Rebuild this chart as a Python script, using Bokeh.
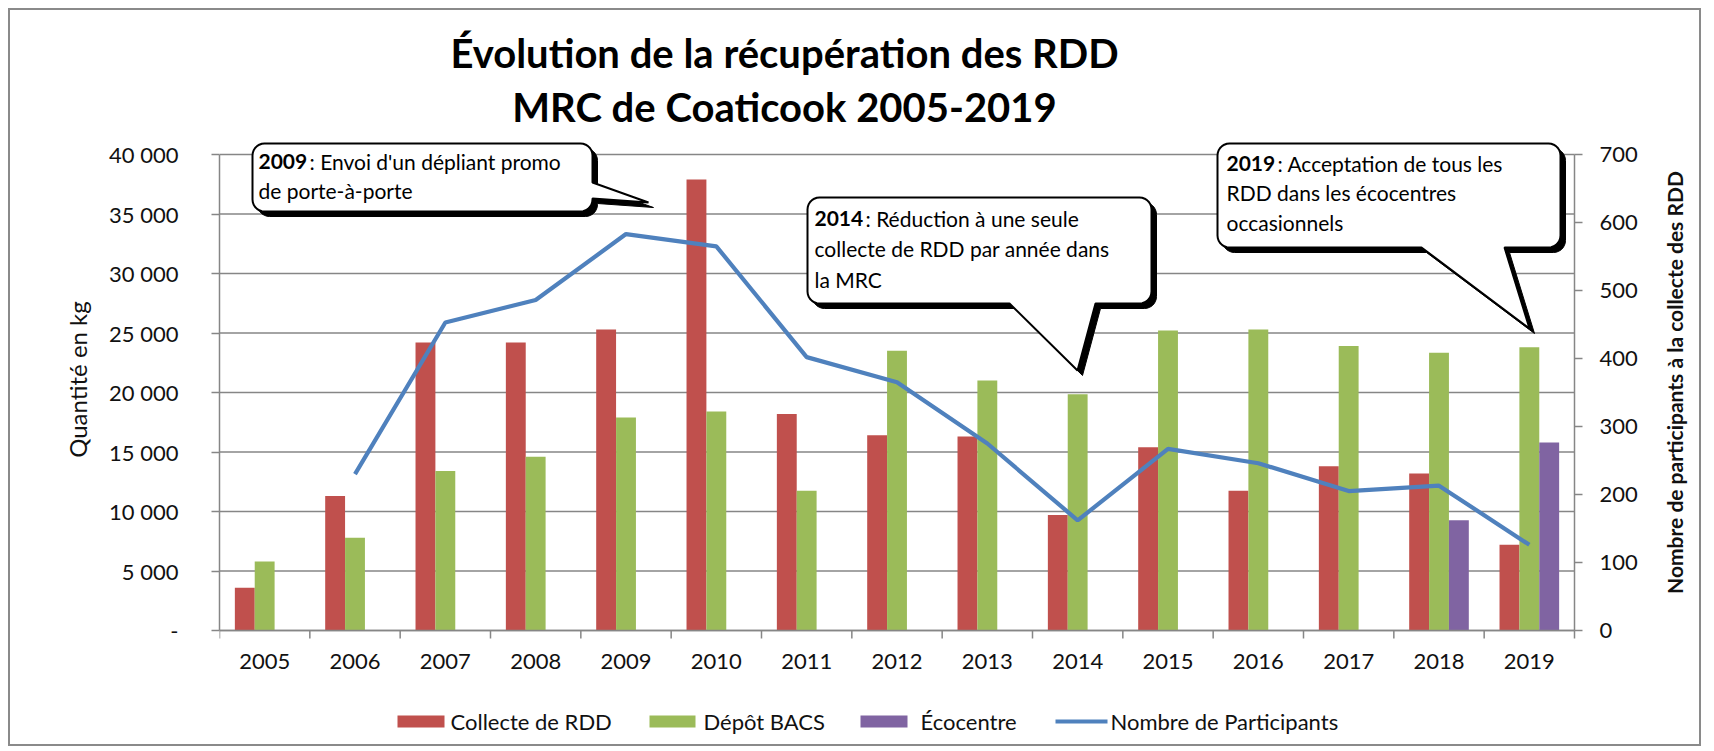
import math
import numpy as np
from bokeh.plotting import figure
from bokeh.models import Range1d, FixedTicker, Label, ColumnDataSource
from bokeh.core.properties import value
from bokeh.transform import dodge
from bokeh.embed import file_html
from bokeh.resources import INLINE

# ---------------- data ----------------
YEARS = ["2005", "2006", "2007", "2008", "2009", "2010", "2011", "2012",
         "2013", "2014", "2015", "2016", "2017", "2018", "2019"]
COLLECTE_RDD = [3600, 11300, 24200, 24200, 25300, 37900, 18200, 16400,
                16300, 9700, 15400, 11750, 13800, 13200, 7200]
DEPOT_BACS = [5800, 7800, 13400, 14600, 17900, 18400, 11750, 23500,
              21000, 19850, 25200, 25300, 23900, 23350, 23800]
ECOCENTRE = [np.nan] * 13 + [9270, 15800]
PARTICIPANTS = [np.nan, 230, 453, 486, 583, 565, 402, 365, 275, 162,
                267, 246, 205, 213, 126]

LEFT_TICKS = [0, 5000, 10000, 15000, 20000, 25000, 30000, 35000, 40000]
LEFT_TICK_LABELS = ["-", "5 000", "10 000", "15 000", "20 000", "25 000",
                    "30 000", "35 000", "40 000"]
RIGHT_TICKS = [0, 100, 200, 300, 400, 500, 600, 700]
RIGHT_TICK_LABELS = [str(t) for t in RIGHT_TICKS]

SERIES = ["Collecte de RDD", "Dépôt BACS", "Écocentre", "Nombre de Participants"]
TITLE_1 = "Évolution de la récupération des RDD"
TITLE_2 = "MRC de Coaticook 2005-2019"
Y_LABEL_LEFT = "Quantité en kg"
Y_LABEL_RIGHT = "Nombre de participants à la collecte des RDD"
NOTES = [
    ("2009", [": Envoi d'un dépliant promo", "de porte-à-porte"]),
    ("2014", [": Réduction à une seule", "collecte de RDD par année dans", "la MRC"]),
    ("2019", [": Acceptation de tous les", "RDD dans les écocentres", "occasionnels"]),
]

# ---------------- styles / geometry (page px) ----------------
FONT = "Lato"
RED, GREEN, PURPLE, BLUE = "#C0504D", "#9BBB59", "#8064A2", "#4F81BD"
GRID = "#868686"
TXT = "#111111"

W, H = 1693, 738
OFF = 10                               # margin 8 + border 2
AX_L, AX_R, AX_0, AX_TOP = 219, 1574, 630, 154   # axes box in page px
N = len(YEARS)
Y_MAX_L = 40000
Y_MAX_R = 700
CAT_PX = (AX_R - AX_L) / N
KG_PX = Y_MAX_L / (AX_0 - AX_TOP)


def xd(px):
    return (px - AX_L) / CAT_PX


def yd(py):
    return (AX_0 - py) * KG_PX


def yr(py):
    return yd(py) * Y_MAX_R / Y_MAX_L


p = figure(width=W, height=H,
           x_range=Range1d(0, xd(OFF + W)),
           y_range=Range1d(yd(OFF + H), yd(OFF)),
           output_backend="svg", toolbar_location=None,
           min_border_left=AX_L - OFF, min_border_right=0,
           min_border_top=0, min_border_bottom=0)
p.styles = {"border": "2px solid #8a8a8a", "margin": "8px 0 0 8px"}
p.outline_line_color = None
p.background_fill_color = "white"
p.border_fill_color = "white"
p.extra_y_ranges = {"part": Range1d(yr(OFF + H), yr(OFF))}
p.xaxis.visible = False
p.xgrid.visible = False
p.ygrid.visible = False

# ---------------- left axis (real axis) ----------------
ya = p.yaxis[0]
ya.ticker = FixedTicker(ticks=LEFT_TICKS)
ya.major_label_overrides = {t: l for t, l in zip(LEFT_TICKS, LEFT_TICK_LABELS)}
ya.bounds = (0, Y_MAX_L)
ya.major_tick_out = 8
ya.major_tick_in = 0
ya.minor_tick_out = 0
ya.minor_tick_in = 0
ya.major_tick_line_color = GRID
ya.major_tick_line_width = 1.5
ya.axis_line_color = GRID
ya.axis_line_width = 1.5
ya.major_label_standoff = 33
ya.major_label_text_font = FONT
ya.major_label_text_font_size = "22px"
ya.major_label_text_color = TXT
ya.axis_label = Y_LABEL_LEFT
ya.axis_label_text_font = FONT
ya.axis_label_text_font_style = "normal"
ya.axis_label_text_font_size = "24px"
ya.axis_label_text_color = TXT
ya.axis_label_standoff = 14

# ---------------- gridlines, x axis, right axis ----------------
p.segment(x0=[0] * len(LEFT_TICKS), x1=[N] * len(LEFT_TICKS),
          y0=LEFT_TICKS, y1=LEFT_TICKS, line_color=GRID, line_width=1.5)

centers = [i + 0.5 for i in range(N)]
src = ColumnDataSource(dict(x=centers, year=YEARS, collecte=COLLECTE_RDD,
                            depot=DEPOT_BACS, eco=ECOCENTRE, part=PARTICIPANTS))
BW = 0.22
r_red = p.vbar(x=dodge("x", -BW, range=p.x_range), top="collecte", width=BW,
               source=src, color=RED, line_color=None)
r_green = p.vbar(x=dodge("x", 0, range=p.x_range), top="depot", width=BW,
                 source=src, color=GREEN, line_color=None)
r_purple = p.vbar(x=dodge("x", BW, range=p.x_range), top="eco", width=BW,
                  source=src, color=PURPLE, line_color=None)
r_line = p.line(x="x", y="part", source=src, y_range_name="part",
                line_color=BLUE, line_width=4.2)

# x axis line, category boundary ticks and year labels
p.segment(x0=[0], x1=[N], y0=[0], y1=[0], line_color=GRID, line_width=1.5)
bounds = list(range(N + 1))
p.segment(x0=bounds, x1=bounds, y0=[0] * (N + 1), y1=[yd(AX_0 + 8)] * (N + 1),
          line_color=GRID, line_width=1.5)
p.text(x="x", y=yd(661), text="year", source=src, text_align="center",
       text_baseline="middle", text_font=value(FONT), text_font_size="22px",
       text_color=TXT)

# right axis (participants scale)
p.segment(x0=[N], x1=[N], y0=[0], y1=[Y_MAX_R], y_range_name="part",
          line_color=GRID, line_width=1.5)
p.segment(x0=[N] * len(RIGHT_TICKS), x1=[xd(AX_R + 8)] * len(RIGHT_TICKS),
          y0=RIGHT_TICKS, y1=RIGHT_TICKS, y_range_name="part",
          line_color=GRID, line_width=1.5)
p.text(x=[xd(AX_R + 25)] * len(RIGHT_TICKS), y=RIGHT_TICKS, text=RIGHT_TICK_LABELS,
       y_range_name="part", text_align="left", text_baseline="middle",
       text_font=value(FONT), text_font_size="22px", text_color=TXT)
p.add_layout(Label(x=xd(1674), y=yd(382), text=Y_LABEL_RIGHT, angle=math.pi / 2,
                   text_align="center", text_baseline="middle", text_font=FONT,
                   text_font_style="bold", text_font_size="21px", text_color=TXT))

# ---------------- titles ----------------
for txt, base in [(TITLE_1, 52), (TITLE_2, 106)]:
    p.add_layout(Label(x=xd(784), y=yd(base), text=txt, text_align="center",
                       text_baseline="alphabetic", text_font=FONT,
                       text_font_style="bold", text_font_size="40px",
                       text_color="black"))


# ---------------- callouts ----------------
def bubble(l, t, r, b, rad, side, base, tip, dx=0, dy=0):
    pts = []

    def arc(cx, cy, a0, a1, n=8):
        for a in np.linspace(a0, a1, n):
            pts.append((cx + rad * math.cos(a), cy + rad * math.sin(a)))
    arc(l + rad, t + rad, math.pi, 1.5 * math.pi)
    arc(r - rad, t + rad, 1.5 * math.pi, 2 * math.pi)
    if side == "right":
        pts += [(r, base[0]), tip, (r, base[1])]
    arc(r - rad, b - rad, 0, 0.5 * math.pi)
    if side == "bottom":
        pts += [(base[1], b), tip, (base[0], b)]
    arc(l + rad, b - rad, 0.5 * math.pi, math.pi)
    return [xd(x + dx) for x, y in pts], [yd(y + dy) for x, y in pts]


BUBBLES = [
    dict(box=(252, 143, 592, 211), side="right", base=(182, 198), tip=(648, 202),
         text_x=258, lines_y=[161, 190]),
    dict(box=(807, 197, 1151, 303), side="bottom", base=(1009, 1095), tip=(1077, 370),
         text_x=814, lines_y=[218, 248, 279]),
    dict(box=(1217, 143, 1560, 247), side="bottom", base=(1421, 1504), tip=(1529, 328),
         text_x=1226, lines_y=[163, 192, 222]),
]

for bub, (year, lines) in zip(BUBBLES, NOTES):
    l, t, r, b = bub["box"]
    sx, sy = bubble(l, t, r, b, 12, bub["side"], bub["base"], bub["tip"], 5, 5)
    p.patch(sx, sy, fill_color="black", line_color="black", line_width=1)
    bx, by = bubble(l, t, r, b, 12, bub["side"], bub["base"], bub["tip"])
    p.patch(bx, by, fill_color="white", line_color="black", line_width=2)
    tx = bub["text_x"]
    for i, (line, ly) in enumerate(zip(lines, bub["lines_y"])):
        if i == 0:
            p.add_layout(Label(x=xd(tx), y=yd(ly), text=year, text_align="left",
                               text_baseline="middle", text_font=FONT,
                               text_font_style="bold", text_font_size="21px",
                               text_color="black"))
            p.add_layout(Label(x=xd(tx + 51), y=yd(ly), text=line, text_align="left",
                               text_baseline="middle", text_font=FONT,
                               text_font_size="21px", text_color="black"))
        else:
            p.add_layout(Label(x=xd(tx), y=yd(ly), text=line, text_align="left",
                               text_baseline="middle", text_font=FONT,
                               text_font_size="21px", text_color="black"))

# ---------------- legend (drawn below the axis) ----------------
LEG_Y = 721
swatches = [(397, 444, RED), (649, 695, GREEN), (860, 907, PURPLE)]
p.quad(left=[xd(a) for a, b, c in swatches], right=[xd(b) for a, b, c in swatches],
       top=[yd(LEG_Y - 6)] * 3, bottom=[yd(LEG_Y + 6)] * 3,
       fill_color=[c for a, b, c in swatches], line_color=None)
p.segment(x0=[xd(1055)], x1=[xd(1107)], y0=[yd(LEG_Y)], y1=[yd(LEG_Y)],
          line_color=BLUE, line_width=4.2)
p.text(x=[xd(450), xd(703), xd(920), xd(1110)], y=[yd(LEG_Y)] * 4, text=SERIES,
       text_align="left", text_baseline="middle", text_font=value(FONT),
       text_font_size="22px", text_color=TXT)

open("out.html", "w").write(file_html(p, INLINE))
